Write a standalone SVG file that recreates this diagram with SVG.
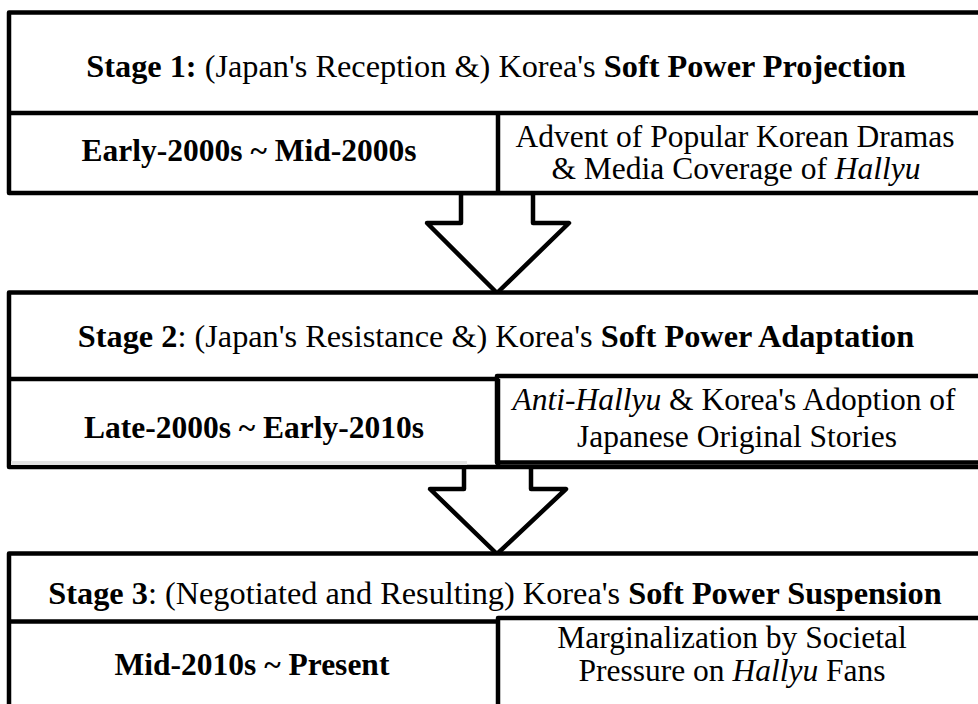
<svg xmlns="http://www.w3.org/2000/svg" width="978" height="704" viewBox="0 0 978 704">
<style>
.bx{fill:#fff;stroke:#000;stroke-width:4.5;stroke-linejoin:round}
.ln{stroke:#000;stroke-width:4.5;fill:none}
.ar{fill:#fff;stroke:#000;stroke-width:4.5;stroke-linejoin:round}
text{font-family:"Liberation Serif","Times New Roman",serif;font-size:31.5px;fill:#000;text-anchor:middle}
text.h{font-size:32.3px}
.b{font-weight:bold}
.i{font-style:italic}
</style>
<rect width="978" height="704" fill="#fff"/>
<g id="connectors">
<polygon class="ar" points="461,193 461,223 427,223 497,293 569,223 533,223 533,193"/>
<polygon class="ar" points="464,466 464,489 430,489 497,554 566,489 531,489 531,463"/>
</g>
<g id="stage1">
<rect class="bx" x="9" y="12.5" width="980" height="180.5"/>
<line class="ln" x1="9" y1="113" x2="989" y2="113"/>
<line class="ln" x1="498" y1="113" x2="498" y2="193"/>
<text class="h" x="496" y="77"><tspan class="b">Stage 1:</tspan> (Japan's Reception &amp;) Korea's <tspan class="b">Soft Power Projection</tspan></text>
<text class="b" x="249" y="161">Early-2000s ~ Mid-2000s</text>
<text x="735" y="147">Advent of Popular Korean Dramas</text>
<text x="736" y="179">&amp; Media Coverage of <tspan class="i">Hallyu</tspan></text>
</g>
<g id="stage2">
<rect class="bx" x="9" y="292.5" width="980" height="174.5"/>
<rect x="11" y="461" width="456" height="4" fill="#e4e4e4"/>
<line class="ln" x1="9" y1="379" x2="498" y2="379"/>
<rect class="bx" x="497" y="376" width="492" height="86.5"/>
<line class="ln" x1="498" y1="379" x2="498" y2="467"/>
<text class="h" x="496" y="347"><tspan class="b">Stage 2</tspan>: (Japan's Resistance &amp;) Korea's <tspan class="b">Soft Power Adaptation</tspan></text>
<text class="b" x="254" y="438">Late-2000s ~ Early-2010s</text>
<text x="734" y="410"><tspan class="i">Anti-Hallyu</tspan> &amp; Korea's Adoption of</text>
<text x="737" y="447">Japanese Original Stories</text>
</g>
<g id="stage3">
<rect class="bx" x="9" y="553.5" width="980" height="160"/>
<line class="ln" x1="9" y1="621.5" x2="498" y2="621.5"/>
<rect class="bx" x="498" y="618" width="491" height="100"/>
<text class="h" x="495" y="604"><tspan class="b">Stage 3</tspan>: (Negotiated and Resulting) Korea's <tspan class="b">Soft Power Suspension</tspan></text>
<text class="b" x="252" y="675">Mid-2010s ~ Present</text>
<text x="732" y="648">Marginalization by Societal</text>
<text x="732" y="681">Pressure on <tspan class="i">Hallyu</tspan> Fans</text>
</g>
</svg>
